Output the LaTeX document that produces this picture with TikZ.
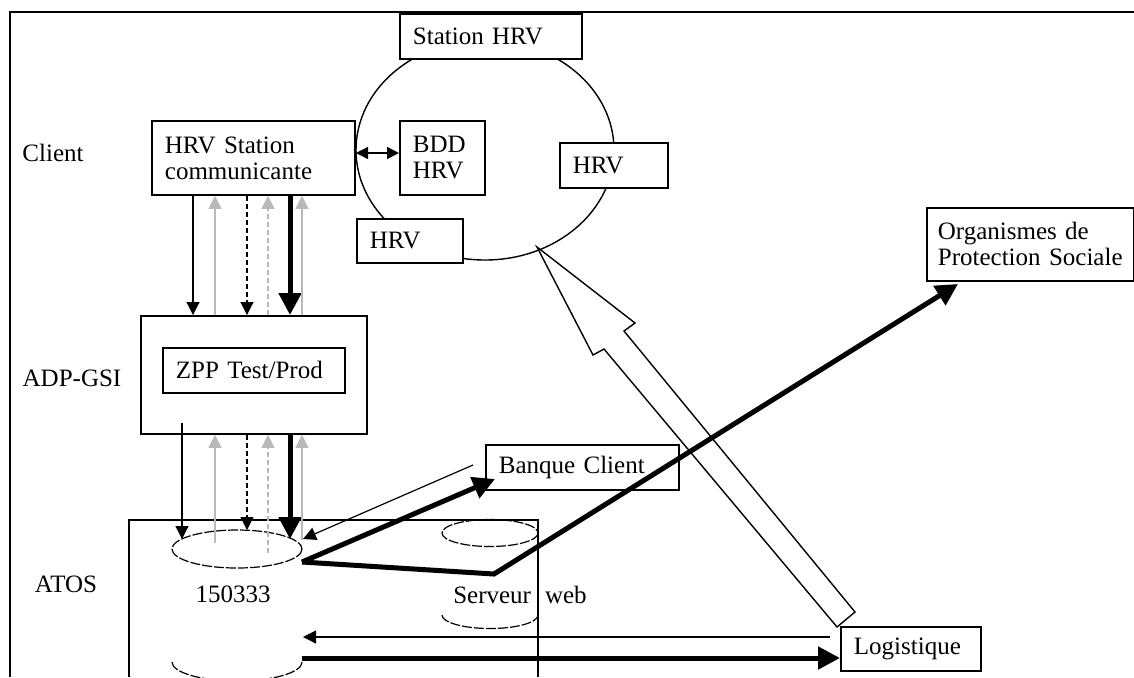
\documentclass[tikz,border=0pt]{standalone}
\usepackage{fontspec}
\setmainfont{Liberation Serif}
\usetikzlibrary{arrows.meta}

\tikzset{
  boite/.style={draw, line width=0.9pt, align=left, inner xsep=6.5pt, inner ysep=0pt, anchor=north west},
  fin/.style={line width=0.6pt, -{Triangle[length=6.5pt,width=6.5pt]}},
  findash/.style={fin, dash pattern=on 2.5pt off 1.5pt},
  retour/.style={fin, draw=gray!55},
  retourdash/.style={retour, dash pattern=on 2.5pt off 1.5pt},
  fort/.style={line width=2.5pt, line join=miter, -{Triangle[length=11pt,width=11pt]}},
  disque/.style={line width=0.6pt, dash pattern=on 5pt off 1pt},
  creux/.style={line width=0.7pt, line join=miter}
}

\begin{document}
\begin{tikzpicture}[x=0.5pt, y=-0.5pt, font=\fontsize{12.5pt}{13pt}\selectfont]
\useasboundingbox (0,0) rectangle (1134,677);

% cadre
\draw[line width=1pt] (1134,12) -- (10,12) -- (10,677);

% niveaux
\node (lclient) at (53,153) {Client};
\node (ladp) at (72,378) {ADP-GSI};
\node (latos) at (66,584) {ATOS};

% anneau HRV
\draw[line width=0.7pt] (485,150) ellipse [x radius=129, y radius=110];
\node[boite, fill=white, minimum width=91pt, minimum height=22.5pt, text width=78pt] (station) at (399,13) {Station HRV};
\node[boite, minimum width=42.5pt, minimum height=37pt, text width=29.5pt] (bdd) at (399,120) {BDD\\HRV};
\node[boite, fill=white, minimum width=54pt, minimum height=22.5pt, text width=41pt] (hrvd) at (559,142) {HRV};
\node[boite, fill=white, minimum width=53pt, minimum height=22pt, text width=40pt] (hrvg) at (356,218) {HRV};

\node[boite, minimum width=101.5pt, minimum height=37pt, text width=88.5pt] (client) at (151,120) {HRV Station\\communicante};
\draw[line width=0.7pt, {Triangle[length=6pt,width=6pt]}-{Triangle[length=6pt,width=6pt]}] (356,153) -- (bdd.west |- 0,153);

% ADP-GSI
\node[draw, line width=0.9pt, inner sep=0pt, anchor=north west, minimum width=113pt, minimum height=59pt] (adp) at (140,315) {};
\node[boite, minimum width=91pt, minimum height=22.5pt, text width=78pt] (zpp) at (162,347) {ZPP Test/Prod};

% flux client / ADP
\foreach \x/\sty in {193/fin, 247/findash, 290/fort}
  \draw[\sty] (client.south -| \x,0) -- (adp.north -| \x,0);
\foreach \x/\sty in {215/retour, 268/retourdash, 302/retour}
  \draw[\sty] (adp.north -| \x,0) -- (client.south -| \x,0);

% ATOS
\draw[line width=0.8pt] (129,677) -- (129,520) -- (538,520) -- (538,677);
\draw[disque] (237,549) ellipse [x radius=65, y radius=19];
\draw[disque] (172,662) arc[start angle=180, end angle=0, x radius=65, y radius=19];
\draw[disque] (490,533) ellipse [x radius=48, y radius=13.5];
\draw[disque] (442,615) arc[start angle=180, end angle=0, x radius=48, y radius=13.5];
\node (n150333) at (233,594) {150333};
\node (serveur) at (520,595) {Serveur\hspace{7pt}web};

% flux ADP / ATOS
\draw[fin] (182,423) -- (182,539);
\draw[retour] (215,543) -- (adp.south -| 215,0);
\draw[findash] (adp.south -| 247,0) -- (247,530);
\draw[retourdash] (268,553) -- (adp.south -| 268,0);
\draw[fort] (adp.south -| 290,0) -- (290,539);
\draw[retour] (302,540) -- (adp.south -| 302,0);

% partenaires
\node[boite, minimum width=96.5pt, minimum height=22.5pt, text width=83.5pt] (banque) at (485,444) {Banque Client};
\node[boite, inner xsep=5.5pt, minimum width=103.5pt, minimum height=36.5pt, text width=92.5pt] (ops) at (926,207) {Organismes de\\Protection Sociale};
\node[boite, minimum width=70pt, minimum height=22pt, text width=57pt] (logistique) at (840,626) {Logistique};

\draw[fin] (473,465) -- (303,539);
\draw[fort] (302,562) -- (495,479);
\draw[fort] (302,562) -- (494,574) -- (958,284);
\draw[fin] (830,637) -- (303,637);
\draw[fort] (302,658) -- (logistique.west |- 0,658);

% grande fleche creuse
\draw[creux] (537,247) -- (593,355) -- (604,349) -- (837,627) -- (855,612) -- (624,331) -- (635,323) -- cycle;
\end{tikzpicture}
\end{document}
